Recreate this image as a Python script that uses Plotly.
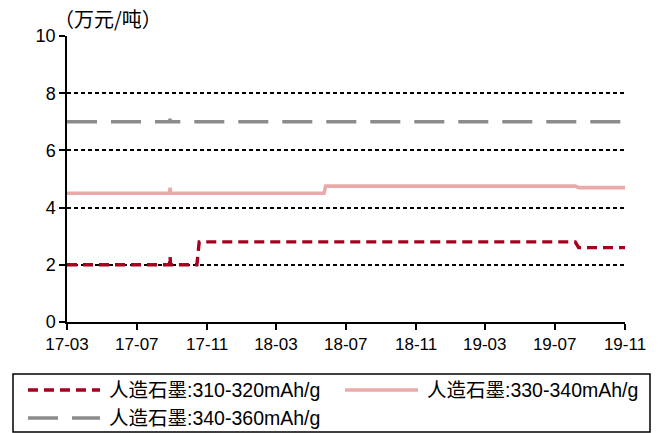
import plotly.graph_objects as go

red_dates = ["2017-03-01", "2017-08-27", "2017-08-28", "2017-08-29", "2017-10-14", "2017-10-18",
             "2019-08-06", "2019-08-12", "2019-11-01"]
red_vals = [2.0, 2.0, 2.3, 2.0, 2.0, 2.8, 2.8, 2.6, 2.6]

pink_dates = ["2017-03-01", "2017-08-27", "2017-08-28", "2017-08-29", "2018-05-24", "2018-05-27",
              "2019-08-06", "2019-08-12", "2019-11-01"]
pink_vals = [4.5, 4.5, 4.7, 4.5, 4.5, 4.75, 4.75, 4.7, 4.7]

gray_dates = ["2017-03-01", "2017-08-27", "2017-08-28", "2017-08-29", "2019-11-01"]
gray_vals = [7.0, 7.0, 7.1, 7.0, 7.0]

names = ["人造石墨:310-320mAh/g", "人造石墨:330-340mAh/g", "人造石墨:340-360mAh/g"]
unit_label = "（万元/吨）"

W, H = 664, 433
ML, MR, MT, MB = 67, 39, 36, 111
PW, PH = W - ML - MR, H - MT - MB


def px(xp):
    return (xp - ML) / PW


def py(yp):
    return (H - MB - yp) / PH


styles = [
    dict(color="#A6001F", width=3.4, dash="10px,6px"),
    dict(color="#EBAAAA", width=3.6),
    dict(color="#8C8C8C", width=3.4, dash="30px,14px"),
]

fig = go.Figure()
for xs, ys, nm, st in zip([red_dates, pink_dates, gray_dates], [red_vals, pink_vals, gray_vals], names, styles):
    fig.add_trace(go.Scatter(x=xs, y=ys, mode="lines", name=nm, line=st, showlegend=False))

# manual legend (box, symbols, labels)
shapes = [dict(type="rect", xref="paper", yref="paper", x0=px(13), x1=px(650), y0=py(374), y1=py(432),
               line=dict(color="black", width=1.5), fillcolor="rgba(0,0,0,0)")]
legend_pos = [(28, 100, 390), (345, 418, 390), (28, 100, 418)]
annotations = []
for (x0, x1, yy), st, nm in zip(legend_pos, styles, names):
    shapes.append(dict(type="line", xref="paper", yref="paper", x0=px(x0), x1=px(x1), y0=py(yy), y1=py(yy),
                       line=st))
    annotations.append(dict(text=nm, xref="paper", yref="paper", x=px(x1 + 7), y=py(yy),
                            xanchor="left", yanchor="middle", showarrow=False,
                            font=dict(family="Liberation Sans, Noto Sans CJK SC", size=19.5)))
annotations.append(dict(text=unit_label, xref="paper", yref="paper", x=px(108), y=py(18),
                        xanchor="center", yanchor="middle", showarrow=False,
                        font=dict(family="Noto Sans CJK SC", size=20)))

fig.update_layout(
    width=W, height=H,
    margin=dict(l=ML, r=MR, t=MT, b=MB, autoexpand=False),
    paper_bgcolor="white", plot_bgcolor="white",
    font=dict(family="Liberation Sans, Arial", size=17, color="black"),
    showlegend=False,
    xaxis=dict(type="date", range=["2017-03-01", "2019-11-01"], dtick="M4", tick0="2017-03-01",
               tickformat="%y-%m", showgrid=False, showline=True, linecolor="black", linewidth=1.5,
               ticks="outside", ticklen=6, tickcolor="black", tickwidth=1.5, zeroline=False,
               tickfont=dict(size=17)),
    yaxis=dict(range=[0, 10], dtick=2, showgrid=True, gridcolor="black", griddash="4px,3px",
               gridwidth=1.5, showline=True, linecolor="black", linewidth=1.5,
               ticks="outside", ticklen=6, tickcolor="black", tickwidth=1.5, zeroline=False,
               tickfont=dict(size=18)),
    shapes=shapes,
    annotations=annotations,
)
fig.write_html("out.html", config={"displayModeBar": False},
               post_script="document.body.style.margin='0';document.body.style.overflow='hidden';")
